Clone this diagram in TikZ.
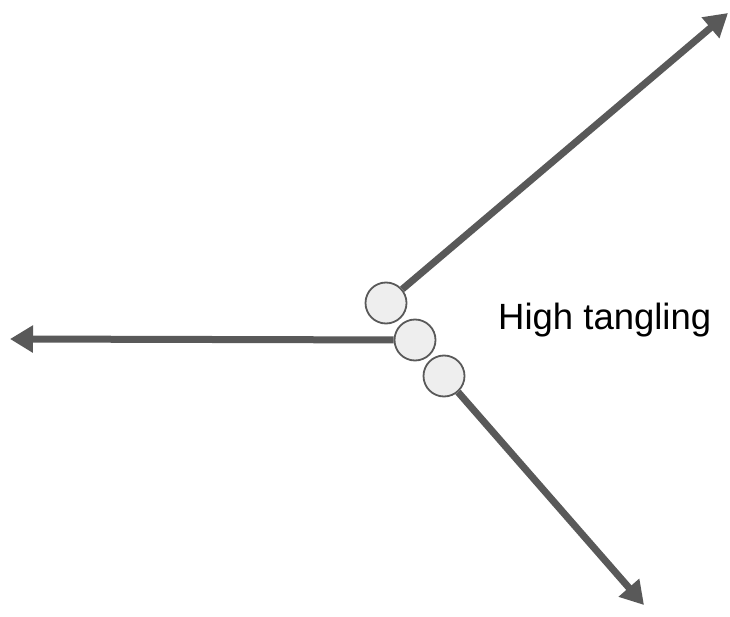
\documentclass[tikz,border=0pt]{standalone}
\usepackage{fontspec}
\setmainfont{Liberation Sans}
\usetikzlibrary{arrows.meta}
\definecolor{strand}{HTML}{595959}
\definecolor{knot}{HTML}{EEEEEE}
\tikzset{
  strandline/.style={draw=strand, line width=7pt, -{Triangle[length=23pt,width=26pt]}},
  knotball/.style={circle, draw=strand, fill=knot, line width=1.8pt, minimum size=41pt, inner sep=0pt}
}
\begin{document}
\begin{tikzpicture}[x=1pt,y=-1pt]
\useasboundingbox (0,0) rectangle (730,617);
\node[knotball] (c1) at (386,303) {};
\node[knotball] (c2) at (415,340) {};
\node[knotball] (c3) at (444,376) {};
\coordinate (t1) at (728,13);
\coordinate (t2) at (10,339);
\coordinate (t3) at (644,605);
\draw[strandline] (c1) -- (t1);
\draw[strandline] (c2) -- (t2);
\draw[strandline] (c3) -- (t3);
\node[anchor=base west, inner sep=0pt, font=\fontsize{36.5}{42}\selectfont] (lbl) at (498,329) {High tangling};
\end{tikzpicture}
\end{document}
